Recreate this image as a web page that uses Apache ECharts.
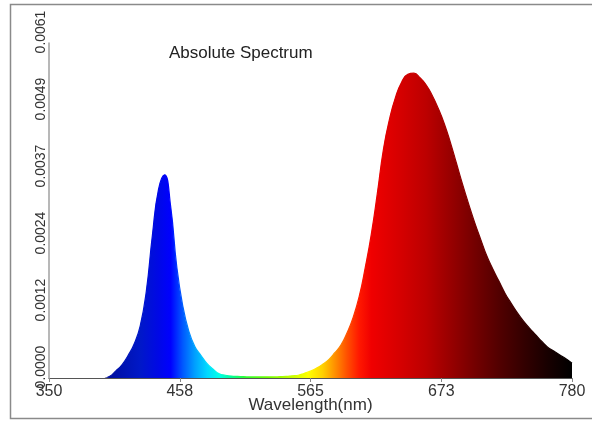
<!DOCTYPE html>
<html>
<head>
<meta charset="utf-8">
<script src="https://cdn.jsdelivr.net/npm/echarts@6/dist/echarts.min.js"></script>
<style>
html,body{margin:0;padding:0;background:#fff;}
#chart{width:592px;height:421px;}
</style>
</head>
<body>
<div id="chart"></div>
<script>
var titleText = 'Absolute Spectrum';
var xAxisName = 'Wavelength(nm)';
var wavelengths = [350,355,360,365,370,375,380,385,390,395,400,405,410,415,420,425,430,435,440,445,450,455,460,465,470,475,480,485,490,495,500,505,510,515,520,525,530,535,540,545,550,555,560,565,570,575,580,585,590,595,600,605,610,615,620,625,630,635,640,645,650,655,660,665,670,675,680,685,690,695,700,705,710,715,720,725,730,735,740,745,750,755,760,765,770,775,780];
var intensity = [0,0,0,0,0,0,0,0,0,0,
  0.00003,0.00013,0.00024,0.00041,0.00062,0.00095,0.00158,0.00260,0.00343,0.00370,
  0.00313,0.00204,0.00131,0.00085,0.00057,0.00041,0.00026,0.00016,0.000075,0.00005,
  0.000035,0.00003,0.000025,0.00002,0.00002,0.00002,0.00002,0.00002,0.000025,0.00003,
  0.00004,0.00005,0.000085,0.000125,0.00018,0.00025,0.000335,0.00046,0.00060,0.00082,
  0.00110,0.00148,0.00201,0.00262,0.00337,0.00417,0.00472,0.00512,0.00539,0.00553,
  0.00555,0.00547,0.00534,0.00515,0.00491,0.00463,0.00429,0.00391,0.00353,0.00317,
  0.00283,0.00252,0.00222,0.00198,0.00176,0.00154,0.00136,0.00119,0.00104,0.00091,
  0.00079,0.00067,0.00056,0.00049,0.00042,0.00035,0.00027];
var xMin = 350, xMax = 780, xStep = 107.5;
var yMin = 0, yMax = 0.0061, yStep = 0.00122;

// colour ramp for the spectrum fill (style only)
var rampWl =    [350,      400,      425,      440,      450,      460,      470,      480,      490,      500,      512,      530,      550,      563,      575,      585,      595,      605,      615,      640,      660,      680,      700,      720,      740,      760,      780];
var rampColor = ['#000070','#0010a0','#0018c8','#0008e6','#0000ff','#0058ff','#00a0ff','#00d8ff','#00ffe8','#00ff98','#30ff30','#70ff00','#c8ff00','#ffff00','#ffd000','#ff9000','#ff5000','#ff1800','#f00000','#d40000','#bc0000','#980000','#740000','#520000','#340000','#180000','#000000'];

function makeStops(hideStart){
  var s = rampWl.map(function(w, i){ return {offset:(w - xMin)/(xMax - xMin), color: rampColor[i]}; });
  if (hideStart) {
    s[0] = {offset:0, color:'rgba(85,85,85,0)'};
    s.splice(1, 0, {offset:(397 - xMin)/(xMax - xMin), color:'rgba(85,85,85,0)'});
  }
  return s;
}
var seriesData = wavelengths.map(function(w, i){ return [w, intensity[i]]; });
var font = 'Liberation Sans, Arial, sans-serif';

var chart = echarts.init(document.getElementById('chart'), null, {renderer:'canvas'});
chart.setOption({
  animation:false,
  backgroundColor:'#fff',
  title:{text:titleText, left:164, top:40, textStyle:{fontFamily:font, fontSize:17, fontWeight:'normal', color:'#222'}},
  grid:{left:49, right:20, top:43, bottom:43, containLabel:false, outerBoundsMode:'none'},
  graphic:[{type:'rect', shape:{x:10.5, y:4.5, width:700, height:414}, style:{fill:null, stroke:'#8a8a8a', lineWidth:1.5}, z:-1, silent:true}],
  xAxis:{
    type:'value', min:xMin, max:xMax, interval:xStep,
    name:xAxisName, nameLocation:'middle', nameGap:19, nameMoveOverlap:false,
    nameTextStyle:{fontFamily:font, fontSize:17, color:'#333'},
    axisLine:{lineStyle:{color:'#555', width:1}},
    axisTick:{show:true, length:4, lineStyle:{color:'#888'}},
    splitLine:{show:false},
    axisLabel:{margin:6, fontFamily:font, fontSize:16, color:'#333', formatter:function(v){return String(Math.round(v));}}
  },
  yAxis:{
    type:'value', min:yMin, max:yMax, interval:yStep,
    axisLine:{show:true, lineStyle:{color:'#a0a0a0', width:1.5}},
    axisTick:{show:false},
    splitLine:{show:false},
    axisLabel:{rotate:90, margin:1, padding:[0,0,0,22], fontFamily:font, fontSize:14, color:'#333', formatter:function(v){return v.toFixed(4);}}
  },
  series:[{
    type:'line', data:seriesData, smooth:true, showSymbol:false, z:2,
    lineStyle:{width:1.2, color:new echarts.graphic.LinearGradient(0,0,1,0,makeStops(true))},
    areaStyle:{opacity:1, color:new echarts.graphic.LinearGradient(0,0,1,0,makeStops(false))}
  }]
});
</script>
</body>
</html>
